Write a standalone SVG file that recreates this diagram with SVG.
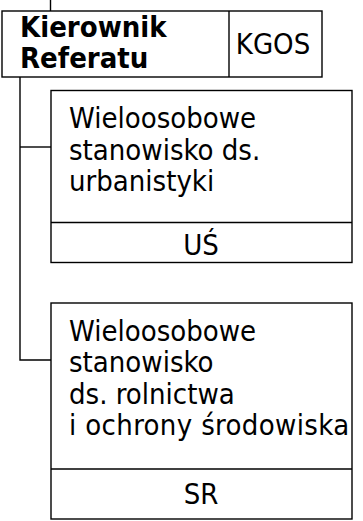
<svg xmlns="http://www.w3.org/2000/svg" width="363" height="521" viewBox="0 0 363 521">
<style>
.box{fill:#fff;stroke:#000;stroke-width:1.4}
.ln{fill:none;stroke:#000;stroke-width:1.4}
text{font-family:"DejaVu Sans Condensed","DejaVu Sans",sans-serif;font-stretch:condensed;font-size:29px;fill:#000}
.b{font-weight:bold;font-size:29px}
.c{text-anchor:middle}
</style>
<rect width="363" height="521" fill="#fff"/>
<g id="connectors">
<line class="ln" x1="50.5" y1="0" x2="50.5" y2="11"/>
<polyline class="ln" points="20,77 20,360 51,360"/>
<line class="ln" x1="20" y1="147" x2="51" y2="147"/>
</g>
<g id="kierownik">
<rect class="box" x="2" y="11" width="320" height="66"/>
<line class="ln" x1="229" y1="11" x2="229" y2="77"/>
<text class="b" x="20" y="37">Kierownik</text>
<text class="b" x="20" y="68">Referatu</text>
<text class="c" x="273" y="54">KGOS</text>
</g>
<g id="urbanistyka">
<rect class="box" x="51" y="90.5" width="301" height="172"/>
<line class="ln" x1="51" y1="222.5" x2="352" y2="222.5"/>
<text x="69" y="128">Wieloosobowe</text>
<text x="69" y="160">stanowisko ds.</text>
<text x="69" y="191">urbanistyki</text>
<text class="c" x="201" y="255">UŚ</text>
</g>
<g id="rolnictwo">
<rect class="box" x="51" y="303" width="301" height="216"/>
<line class="ln" x1="51" y1="469" x2="352" y2="469"/>
<text x="69" y="341">Wieloosobowe</text>
<text x="69" y="372">stanowisko</text>
<text x="69" y="404">ds. rolnictwa</text>
<text x="69" y="435" letter-spacing="0.35">i ochrony środowiska</text>
<text class="c" x="201" y="504">SR</text>
</g>
</svg>
